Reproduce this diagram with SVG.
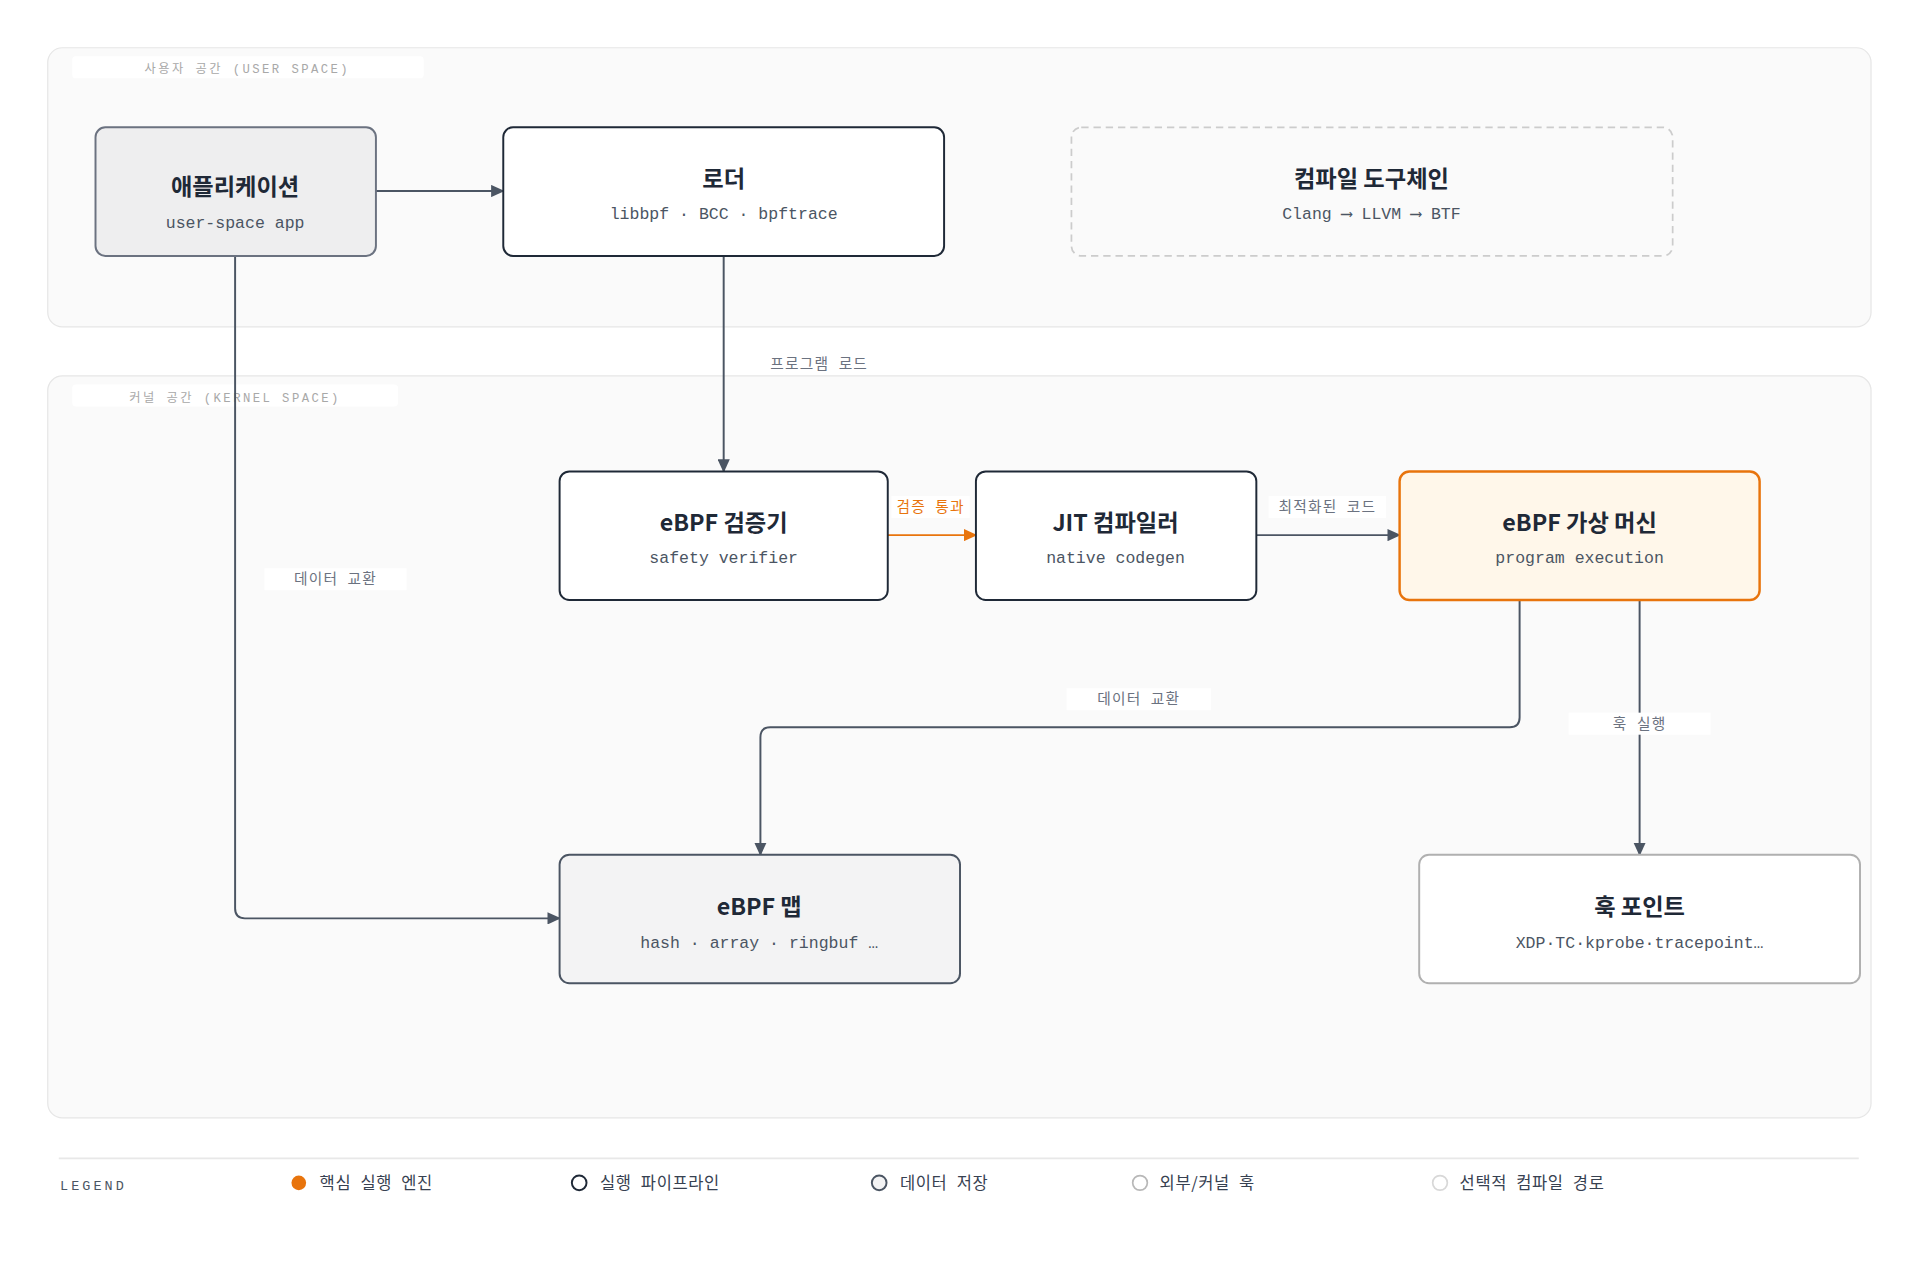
<svg xmlns="http://www.w3.org/2000/svg" width="1920" height="1280" viewBox="0 0 1920 1280">
<defs>
<marker id="ah" viewBox="0 0 10 10" refX="9" refY="5" markerWidth="11" markerHeight="10" orient="auto" markerUnits="userSpaceOnUse" preserveAspectRatio="none"><path d="M0,0 L10,5 L0,10 z" fill="#4b5563"/></marker>
<marker id="aho" viewBox="0 0 10 10" refX="9" refY="5" markerWidth="11" markerHeight="10" orient="auto" markerUnits="userSpaceOnUse" preserveAspectRatio="none"><path d="M0,0 L10,5 L0,10 z" fill="#e8740c"/></marker>
<style>
.region{fill:#fafafa;stroke:#e6e6e6;stroke-width:1}
.rlab{font-family:"Liberation Mono","Noto Sans CJK KR",monospace;font-size:10px;letter-spacing:2px;fill:#a8a8a8;text-anchor:middle}
.title{font-family:"Noto Sans CJK KR","Noto Sans",sans-serif;font-weight:700;font-size:19px;fill:#1f2937;text-anchor:middle}
.sub{font-family:"Liberation Mono","Noto Sans CJK KR",monospace;font-size:13.5px;fill:#4b5563;text-anchor:middle}
.elab{font-family:"Noto Sans CJK KR",sans-serif;font-size:12px;fill:#6b7280;text-anchor:middle;letter-spacing:1px;word-spacing:4px}
.lbg{fill:#ffffff}
.edge{fill:none;stroke:#4b5563;stroke-width:1.6}
.leg{font-family:"Noto Sans CJK KR",sans-serif;font-size:13.5px;fill:#374151;letter-spacing:0.5px;word-spacing:4px}
</style>
</defs>
<rect width="1920" height="1280" fill="#ffffff"/>
<g transform="scale(1.2245)">
<g id="regions">
<rect class="region" x="39" y="39" width="1489" height="228" rx="12"/>
<rect class="lbg" x="59" y="46" width="287" height="18" rx="3"/>
<text class="rlab" x="202" y="60">사용자 공간 (USER SPACE)</text>
<rect class="region" x="39" y="307" width="1489" height="606" rx="12"/>
<rect class="lbg" x="59" y="314" width="266" height="18" rx="3"/>
<text class="rlab" x="192" y="328">커널 공간 (KERNEL SPACE)</text>
</g>
<g id="connectors">
<path class="edge" d="M307,156 H411" marker-end="url(#ah)"/>
<path class="edge" d="M591,209 V385" marker-end="url(#ah)"/>
<path class="edge" d="M725,437 H797" style="stroke:#e8740c" marker-end="url(#aho)"/>
<path class="edge" d="M1026,437 H1143" marker-end="url(#ah)"/>
<path class="edge" d="M1241,490 V586 Q1241,594 1233,594 H629 Q621,594 621,602 V698" marker-end="url(#ah)"/>
<path class="edge" d="M1339,490 V698" marker-end="url(#ah)"/>
<path class="edge" d="M192,209 V742 Q192,750 200,750 H457" marker-end="url(#ah)"/>
<rect class="lbg" x="619" y="288" width="100" height="18"/>
<text class="elab" x="669" y="301">프로그램 로드</text>
<rect class="lbg" x="728" y="405" width="64" height="18"/>
<text class="elab" x="760" y="418" style="fill:#e8740c">검증 통과</text>
<rect class="lbg" x="1036" y="405" width="96" height="18"/>
<text class="elab" x="1084" y="418">최적화된 코드</text>
<rect class="lbg" x="871" y="562" width="118" height="18"/>
<text class="elab" x="930" y="575">데이터 교환</text>
<rect class="lbg" x="1281" y="582" width="116" height="18"/>
<text class="elab" x="1339" y="595">훅 실행</text>
<rect class="lbg" x="216" y="464" width="116" height="18"/>
<text class="elab" x="274" y="477">데이터 교환</text>
</g>
<g id="app"><rect x="78" y="104" width="229" height="105" rx="8" fill="#eeeeef" stroke="#6b7280" stroke-width="1.6"/>
<text class="title" x="192" y="159">애플리케이션</text><text class="sub" x="192" y="186">user-space app</text></g>
<g id="loader"><rect x="411" y="104" width="360" height="105" rx="8" fill="#fff" stroke="#1f2937" stroke-width="1.6"/>
<text class="title" x="591" y="153">로더</text><text class="sub" x="591" y="179">libbpf · BCC · bpftrace</text></g>
<g id="toolchain"><rect x="875" y="104" width="491" height="105" rx="8" fill="none" stroke="#cccccc" stroke-width="1.4" stroke-dasharray="6 4"/>
<text class="title" x="1120" y="153">컴파일 도구체인</text><text class="sub" x="1120" y="179">Clang ⟶ LLVM ⟶ BTF</text></g>
<g id="verifier"><rect x="457" y="385" width="268" height="105" rx="8" fill="#fff" stroke="#1f2937" stroke-width="1.6"/>
<text class="title" x="591" y="434">eBPF 검증기</text><text class="sub" x="591" y="460">safety verifier</text></g>
<g id="jit"><rect x="797" y="385" width="229" height="105" rx="8" fill="#fff" stroke="#1f2937" stroke-width="1.6"/>
<text class="title" x="911" y="434">JIT 컴파일러</text><text class="sub" x="911" y="460">native codegen</text></g>
<g id="vm"><rect x="1143" y="385" width="294" height="105" rx="8" fill="#fff7ea" stroke="#e8740c" stroke-width="2"/>
<text class="title" x="1290" y="434">eBPF 가상 머신</text><text class="sub" x="1290" y="460">program execution</text></g>
<g id="maps"><rect x="457" y="698" width="327" height="105" rx="8" fill="#f3f3f4" stroke="#4b5563" stroke-width="1.6"/>
<text class="title" x="620" y="747">eBPF 맵</text><text class="sub" x="620" y="774">hash · array · ringbuf …</text></g>
<g id="hooks"><rect x="1159" y="698" width="360" height="105" rx="8" fill="#fff" stroke="#b0b0b0" stroke-width="1.6"/>
<text class="title" x="1339" y="747">훅 포인트</text><text class="sub" x="1339" y="774">XDP·TC·kprobe·tracepoint…</text></g>
<g id="legend">
<line x1="48" y1="946" x2="1518" y2="946" stroke="#e8e8e8" stroke-width="1.5"/>
<text x="49" y="972" style="font-family:'Liberation Mono',monospace;font-size:11px;letter-spacing:2.5px;fill:#4b5563">LEGEND</text>
<circle cx="244" cy="966" r="6" fill="#e8740c"/><text class="leg" x="261" y="971">핵심 실행 엔진</text>
<circle cx="473" cy="966" r="6" fill="#fff" stroke="#1f2937" stroke-width="1.6"/><text class="leg" x="490" y="971">실행 파이프라인</text>
<circle cx="718" cy="966" r="6" fill="#f3f3f4" stroke="#4b5563" stroke-width="1.6"/><text class="leg" x="735" y="971">데이터 저장</text>
<circle cx="931" cy="966" r="6" fill="#fff" stroke="#b8b8b8" stroke-width="1.4"/><text class="leg" x="947" y="971">외부/커널 훅</text>
<circle cx="1176" cy="966" r="6" fill="#fff" stroke="#d8d8d8" stroke-width="1.4"/><text class="leg" x="1192" y="971">선택적 컴파일 경로</text>
</g>
</g>
</svg>
